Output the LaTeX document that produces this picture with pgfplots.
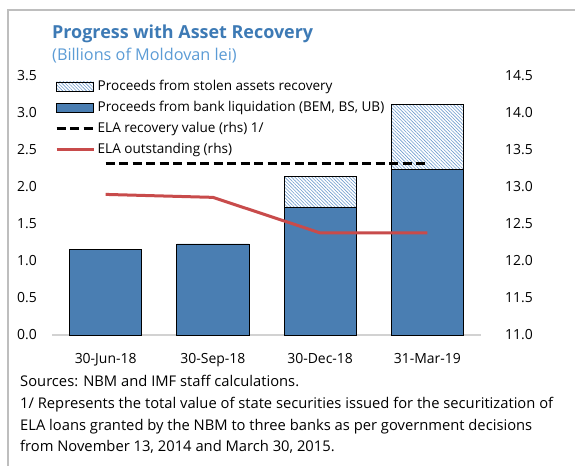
\documentclass[border=0pt]{standalone}
\usepackage{pgfplots}
\pgfplotsset{compat=1.18}
\usetikzlibrary{patterns,patterns.meta}
\usepackage{fontspec}
\setmainfont{Open Sans}
\definecolor{barblue}{RGB}{74,126,178}
\definecolor{hatchblue}{RGB}{110,155,205}
\definecolor{titleblue}{RGB}{61,122,181}
\definecolor{subblue}{RGB}{91,155,213}
\definecolor{elared}{RGB}{200,75,75}
\definecolor{framegray}{RGB}{190,190,190}
\definecolor{basegray}{RGB}{210,210,210}
\newcommand{\txtsize}{\fontsize{14.8}{17}\selectfont}
\newcommand{\ticksize}{\fontsize{14}{16}\selectfont}
\newcommand{\legsize}{\fontsize{13.6}{16}\selectfont}
\pgfplotsset{
  boxlegend/.style={legend image code/.code={\draw[##1] (0bp,-4.5bp) rectangle (37bp,4.5bp);}},
  linelegend/.style={legend image code/.code={\draw[##1] (0bp,0bp) -- (37bp,0bp);}},
  mybase/.style={
    at={(52bp,-335bp)}, anchor=south west,
    scale only axis, width=429bp, height=259bp,
    xmin=-0.5, xmax=3.5,
    axis line style={draw=none},
    major tick length=0pt,
    tick label style={font=\ticksize},
    /pgf/number format/assume math mode=true,
    yticklabel={\pgfmathprintnumber[fixed,fixed zerofill,precision=1]{\tick}},
    ytick distance=0.5,
  }
}
\begin{document}
\begin{tikzpicture}[x=1bp,y=1bp]
\path[use as bounding box] (0,0) rectangle (575,-466);
\draw[framegray, line width=2bp] (8,-466) -- (8,-10) -- (575,-10);
\node[anchor=base west, font=\bfseries\fontsize{18}{22}\selectfont, text=titleblue, inner sep=0] at (52,-39) {Progress with Asset Recovery};
\node[anchor=base west, font=\fontsize{16.3}{20}\selectfont, text=subblue, inner sep=0] at (52,-61) {(Billions of Moldovan lei)};
\begin{axis}[mybase,
  ymin=0, ymax=3.5,
  ybar stacked, bar width=0.672,
  xtick={0,1,2,3},
  xticklabels={30-Jun-18,30-Sep-18,30-Dec-18,31-Mar-19},
  xticklabel style={inner sep=0pt, anchor=base, yshift=-28bp},
  yticklabel style={inner sep=0pt, anchor=east, xshift=-15bp},
]
\addplot[fill=barblue, draw=black, line width=0.8bp] coordinates {(0,1.16) (1,1.23) (2,1.72) (3,2.24)};
\addplot[pattern={Lines[angle=-45,distance=2.4bp,line width=0.6bp]}, pattern color=hatchblue, draw=black, line width=0.8bp] coordinates {(0,0) (1,0) (2,0.42) (3,0.88)};
\draw[basegray, line width=1.2bp] (rel axis cs:0,0) -- (rel axis cs:1,0);
\end{axis}
\begin{axis}[mybase,
  ymin=11, ymax=14.5,
  xtick=\empty,
  yticklabel pos=right,
  yticklabel style={inner sep=0pt, anchor=west, xshift=24bp},
  legend style={at={(0,1)}, anchor=north west, xshift=3bp, yshift=-3bp, draw=none, fill=none,
    font=\legsize, inner sep=0pt, row sep=6.5bp,
    nodes={inner xsep=2.5bp, inner ysep=0pt, text height=11bp, text depth=3.5bp}},
  legend cell align=left,
]
\addlegendimage{boxlegend, pattern={Lines[angle=-45,distance=2.4bp,line width=0.6bp]}, pattern color=hatchblue, draw=black, line width=0.8bp}
\addlegendentry{Proceeds from stolen assets recovery}
\addlegendimage{boxlegend, fill=barblue, draw=black, line width=0.8bp}
\addlegendentry{Proceeds from bank liquidation (BEM, BS, UB)}
\addplot[linelegend, black, line width=3bp, dash pattern=on 9bp off 4.5bp] coordinates {(0,13.32) (1,13.32) (2,13.32) (3,13.32)};
\addlegendentry{ELA recovery value (rhs) 1/}
\addplot[linelegend, elared, line width=3bp] coordinates {(0,12.9) (1,12.86) (2,12.38) (3,12.38)};
\addlegendentry{ELA outstanding (rhs)}
\end{axis}
\begin{scope}[every node/.style={anchor=base west, inner sep=0, font=\txtsize}]
\node at (20,-386) {Sources: NBM and IMF staff calculations.};
\node at (20,-408) {1/ Represents the total value of state securities issued for the securitization of};
\node at (20,-430) {ELA loans granted by the NBM to three banks as per government decisions};
\node at (20,-451) {from November 13, 2014 and March 30, 2015.};
\end{scope}
\end{tikzpicture}
\end{document}
